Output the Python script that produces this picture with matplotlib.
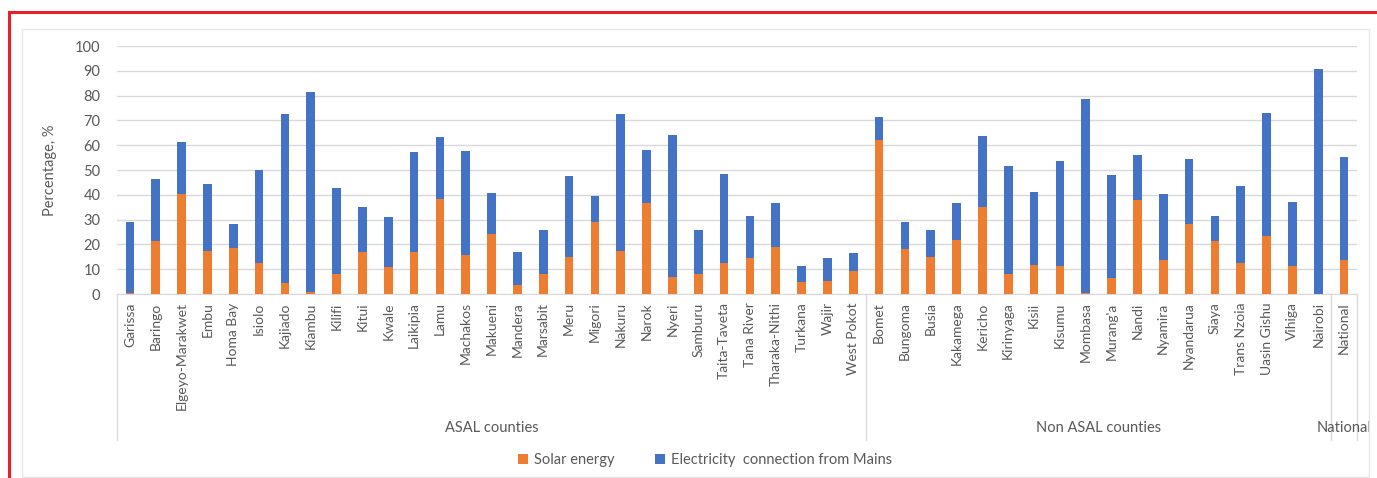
import matplotlib
matplotlib.use('Agg')
import matplotlib.pyplot as plt
import matplotlib.transforms as mtransforms
from matplotlib.patches import Rectangle, Patch
import numpy as np

plt.rcParams['font.family'] = ['Lato', 'DejaVu Sans']

# 数据
counties = [
    'Garissa', 'Baringo', 'Elgeyo-Marakwet', 'Embu', 'Homa Bay', 'Isiolo', 'Kajiado',
    'Kiambu', 'Kilifi', 'Kitui', 'Kwale', 'Laikipia', 'Lamu', 'Machakos', 'Makueni',
    'Mandera', 'Marsabit', 'Meru', 'Migori', 'Nakuru', 'Narok', 'Nyeri', 'Samburu',
    'Taita-Taveta', 'Tana River', 'Tharaka-Nithi', 'Turkana', 'Wajir', 'West Pokot',
    'Bomet', 'Bungoma', 'Busia', 'Kakamega', 'Kericho', 'Kirinyaga', 'Kisii', 'Kisumu',
    'Mombasa', "Murang'a", 'Nandi', 'Nyamira', 'Nyandarua', 'Siaya', 'Trans Nzoia',
    'Uasin Gishu', 'Vihiga', 'Nairobi', 'National',
]
solar = [
    0.3, 21.3, 40.5, 17.3, 18.4, 12.3, 4.4, 0.9, 8.1, 16.8, 10.9, 16.8, 38.5, 15.7, 24.2,
    3.5, 7.9, 14.8, 29.1, 17.3, 36.6, 6.8, 7.9, 12.3, 14.4, 18.8, 5.0, 5.4, 9.4,
    62.1, 18.3, 14.8, 21.7, 35.0, 7.9, 11.7, 11.4, 0.4, 6.6, 38.0, 13.8, 28.2, 21.2,
    12.3, 23.2, 11.4, 0.0, 13.8,
]
total = [
    29.1, 46.3, 61.1, 44.4, 28.1, 50.2, 72.5, 81.3, 42.8, 35.0, 31.0, 57.2, 63.2, 57.7,
    40.9, 16.8, 25.8, 47.4, 39.5, 72.5, 58.1, 64.2, 25.8, 48.3, 31.5, 36.5, 11.4, 14.4,
    16.4, 71.5, 29.1, 26.0, 36.5, 63.6, 51.8, 41.3, 53.7, 78.8, 47.8, 56.1, 40.4, 54.6,
    31.5, 43.4, 72.9, 37.0, 90.7, 55.2,
]
mains = [t - s for t, s in zip(total, solar)]
groups = ['ASAL counties', 'Non ASAL counties', 'National']
group_sizes = [29, 18, 1]

color_solar = '#ED7D31'
color_mains = '#4472C4'
text_color = '#595959'
grid_color = '#D9D9D9'

W, H = 1377, 478
fig = plt.figure(figsize=(W / 100, H / 100), dpi=100)

# 外框：红色 + 灰色图表区
fig.patches.append(Rectangle((9 / W, -0.1), 1.2, 1 - 12 / H + 0.1, transform=fig.transFigure,
                             fill=False, edgecolor='#E8202A', linewidth=2.2))
fig.patches.append(Rectangle((22 / W, 1 / H), (1369 - 22) / W, (477 - 29) / H, transform=fig.transFigure,
                             fill=False, edgecolor='#E6E6E6', linewidth=1.0))

ax = fig.add_axes([117 / W, (H - 294) / H, (1357 - 117) / W, (294 - 46) / H])
x = np.arange(len(counties))
ax.bar(x, solar, width=0.33, color=color_solar, label='Solar energy', zorder=3)
ax.bar(x, mains, width=0.33, bottom=solar, color=color_mains,
       label='Electricity  connection from Mains', zorder=3)

ax.set_xlim(-0.5, len(counties) - 0.5)
ax.set_ylim(0, 100)
ax.set_yticks(np.arange(0, 101, 10))
ax.grid(axis='y', color=grid_color, linewidth=1.0, zorder=0)
for s in ['top', 'right', 'left']:
    ax.spines[s].set_visible(False)
ax.spines['bottom'].set_color(grid_color)
ax.tick_params(axis='y', length=0, pad=12, labelsize=10.5, labelcolor=text_color)
ax.tick_params(axis='x', length=0, pad=6, labelsize=10, labelcolor=text_color)
ax.set_xticks(x)
ax.set_xticklabels(counties, rotation=90, va='top', ha='center')
ax.set_ylabel('Percentage, %', fontsize=10.5, color=text_color, labelpad=13)

# 分组分隔线与分组标签
trans = mtransforms.blended_transform_factory(ax.transData, ax.transAxes)
edges = np.concatenate([[0], np.cumsum(group_sizes)]) - 0.5
for e in edges:
    ax.plot([e, e], [0, -0.59], transform=trans, color=grid_color, linewidth=1.0, clip_on=False)
for i, g in enumerate(groups):
    ax.text((edges[i] + edges[i + 1]) / 2, -0.54, g, transform=trans, ha='center', va='center',
            fontsize=10.5, color=text_color)

handles = [Patch(facecolor=color_solar, label='Solar energy'),
           Patch(facecolor=color_mains, label='Electricity  connection from Mains')]
fig.legend(handles=handles, loc='center', bbox_to_anchor=(705 / W, 1 - 460 / H), ncol=2,
           frameon=False, fontsize=10.5, handlelength=0.7, handleheight=0.7,
           handletextpad=0.4, columnspacing=2.8, labelcolor=text_color)

fig.savefig('out.png', dpi=100)
